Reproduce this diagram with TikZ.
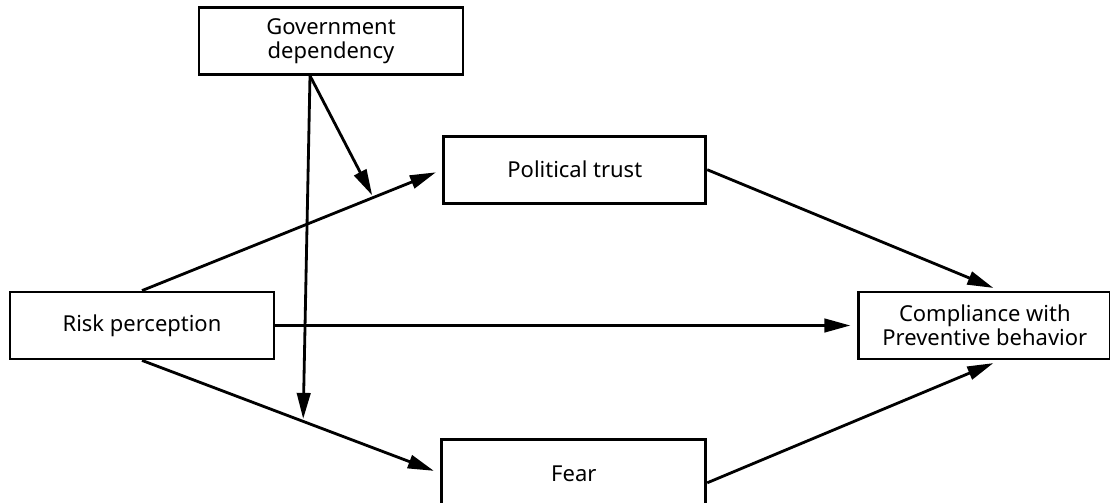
\documentclass[tikz,border=0pt]{standalone}
\usepackage{fontspec}
\setmainfont{Noto Sans}
\usetikzlibrary{arrows.meta,positioning}

\begin{document}
\begin{tikzpicture}[
    font=\fontsize{12.5}{13.5}\selectfont,
    line width=1.6pt,
    box/.style={draw, minimum width=5.28cm, minimum height=1.34cm, align=center},
    arr/.style={-{Triangle[length=0.52cm,width=0.27cm]}, shorten >=0.14cm},
    node distance=6pt
]
\useasboundingbox (-2.84,-3.53) rectangle (19.36,6.51);
\node[box] (risk) {Risk perception};
\node[box, minimum width=5.24cm, above right=1.72cm and 3.34cm of risk] (trust) {Political trust};
\node[box, below right=1.56cm and 3.3cm of risk] (fear) {Fear};
\node[box, above left=1.18cm and -0.44cm of trust] (gov) {Government\\dependency};
\node[box, minimum width=5.04cm, right=11.64cm of risk] (comp) {Compliance with\\Preventive behavior};

\draw[arr] (risk.north) -- coordinate[pos=0.77] (mtrust) (trust.west);
\draw[arr] (risk.south) -- coordinate[pos=0.54] (mfear) (fear.west);
\draw[arr] (risk.east) -- (comp.west);
\draw[arr] (trust.east) -- ([xshift=0.3cm]comp.north);
\draw[arr] ([yshift=-0.19cm]fear.east) -- ([xshift=0.3cm]comp.south);
\draw[arr, shorten >=0.05cm] ([xshift=-0.42cm]gov.south) -- (mtrust);
\draw[arr, shorten >=0.05cm] ([xshift=-0.42cm]gov.south) -- (mfear);
\end{tikzpicture}
\end{document}
